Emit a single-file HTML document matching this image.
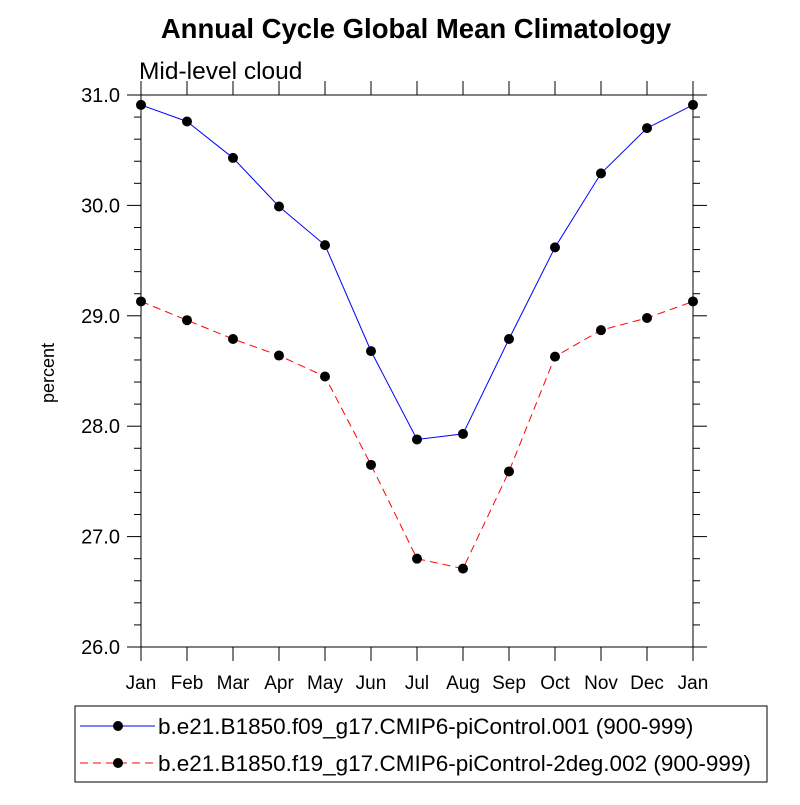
<!DOCTYPE html>
<html><head><meta charset="utf-8"><style>
body{margin:0;background:#fff}
svg text{font-family:"Liberation Sans",Arial,sans-serif}
</style></head><body>
<svg id="chart" width="800" height="800" xmlns="http://www.w3.org/2000/svg">
<text x="416" y="38" font-size="27.5" font-weight="bold" text-anchor="middle">Annual Cycle Global Mean Climatology</text>
<text x="139" y="79" font-size="24.5">Mid-level cloud</text>
<text transform="translate(54,373) rotate(-90)" font-size="18" text-anchor="middle">percent</text>
<g id="axes"></g>
<g id="series"></g>
<g>
<rect x="75" y="706" width="692" height="76" fill="none" stroke="#000" stroke-width="1"/>
<line x1="80" y1="726" x2="155" y2="726" stroke="#0000ff" stroke-width="1"/>
<circle cx="118" cy="726" r="5" fill="#000"/>
<text x="158" y="734" font-size="22.5">b.e21.B1850.f09_g17.CMIP6-piControl.001 (900-999)</text>
<line x1="80" y1="763" x2="155" y2="763" stroke="#ff0000" stroke-width="1" stroke-dasharray="8,5"/>
<circle cx="118" cy="763" r="5" fill="#000"/>
<text x="158" y="771" font-size="22.5">b.e21.B1850.f19_g17.CMIP6-piControl-2deg.002 (900-999)</text>
</g>
</svg>
<script>
const months=["Jan","Feb","Mar","Apr","May","Jun","Jul","Aug","Sep","Oct","Nov","Dec","Jan"];
const blueValues=[30.91,30.76,30.43,29.99,29.64,28.68,27.88,27.93,28.79,29.62,30.29,30.70,30.91];
const redValues=[29.13,28.96,28.79,28.64,28.45,27.65,26.80,26.71,27.59,28.63,28.87,28.98,29.13];
const yTicks=[26,27,28,29,30,31];
const yTickLabels=["26.0","27.0","28.0","29.0","30.0","31.0"];
const L=141,R=693,T=95,B=647,yMin=26,yMax=31;
const NS="http://www.w3.org/2000/svg";
function xs(i){return L+(R-L)*i/(months.length-1);}
function ys(v){return B-(v-yMin)/(yMax-yMin)*(B-T);}
function mk(tag,attrs,parent){const e=document.createElementNS(NS,tag);for(const k in attrs)e.setAttribute(k,attrs[k]);parent.appendChild(e);return e;}
const ax=document.getElementById('axes');
const frame=mk('rect',{x:L,y:T,width:R-L,height:B-T,fill:'none',stroke:'#000','stroke-width':1},ax);


for(let v=yMin;v<=yMax+1e-9;v+=0.2){
  const major=Math.abs(v-Math.round(v))<1e-6;const len=major?14:7;const y=ys(v);
  mk('line',{x1:L-len,y1:y,x2:L,y2:y,stroke:'#000'},ax);
  mk('line',{x1:R,y1:y,x2:R+len,y2:y,stroke:'#000'},ax);
}
yTicks.forEach((v,i)=>{
  const t=mk('text',{x:L-21,y:ys(v)+7,'font-size':20,'text-anchor':'end'},ax);
  t.textContent=yTickLabels[i];
  
  
});
months.forEach((m,i)=>{
  const x=xs(i);
  mk('line',{x1:x,y1:B,x2:x,y2:B+14,stroke:'#000'},ax);
  mk('line',{x1:x,y1:T-14,x2:x,y2:T,stroke:'#000'},ax);
  const t=mk('text',{x:x,y:B+42,'font-size':19,'text-anchor':'middle'},ax);
  t.textContent=m;
  
  
});
const sg=document.getElementById('series');
function series(vals,color,dash,name){
  const p=mk('polyline',{points:vals.map((v,i)=>xs(i)+','+ys(v)).join(' '),fill:'none',stroke:color,'stroke-width':1,'stroke-dasharray':dash},sg);
  
  
  vals.forEach((v,i)=>{
    const c=mk('circle',{cx:xs(i),cy:ys(v),r:5,fill:'#000'},sg);
    
    
  });
}
series(blueValues,'#0000ff','none','f09-series');
series(redValues,'#ff0000','8,5','f19-series');
</script>
</body></html>
